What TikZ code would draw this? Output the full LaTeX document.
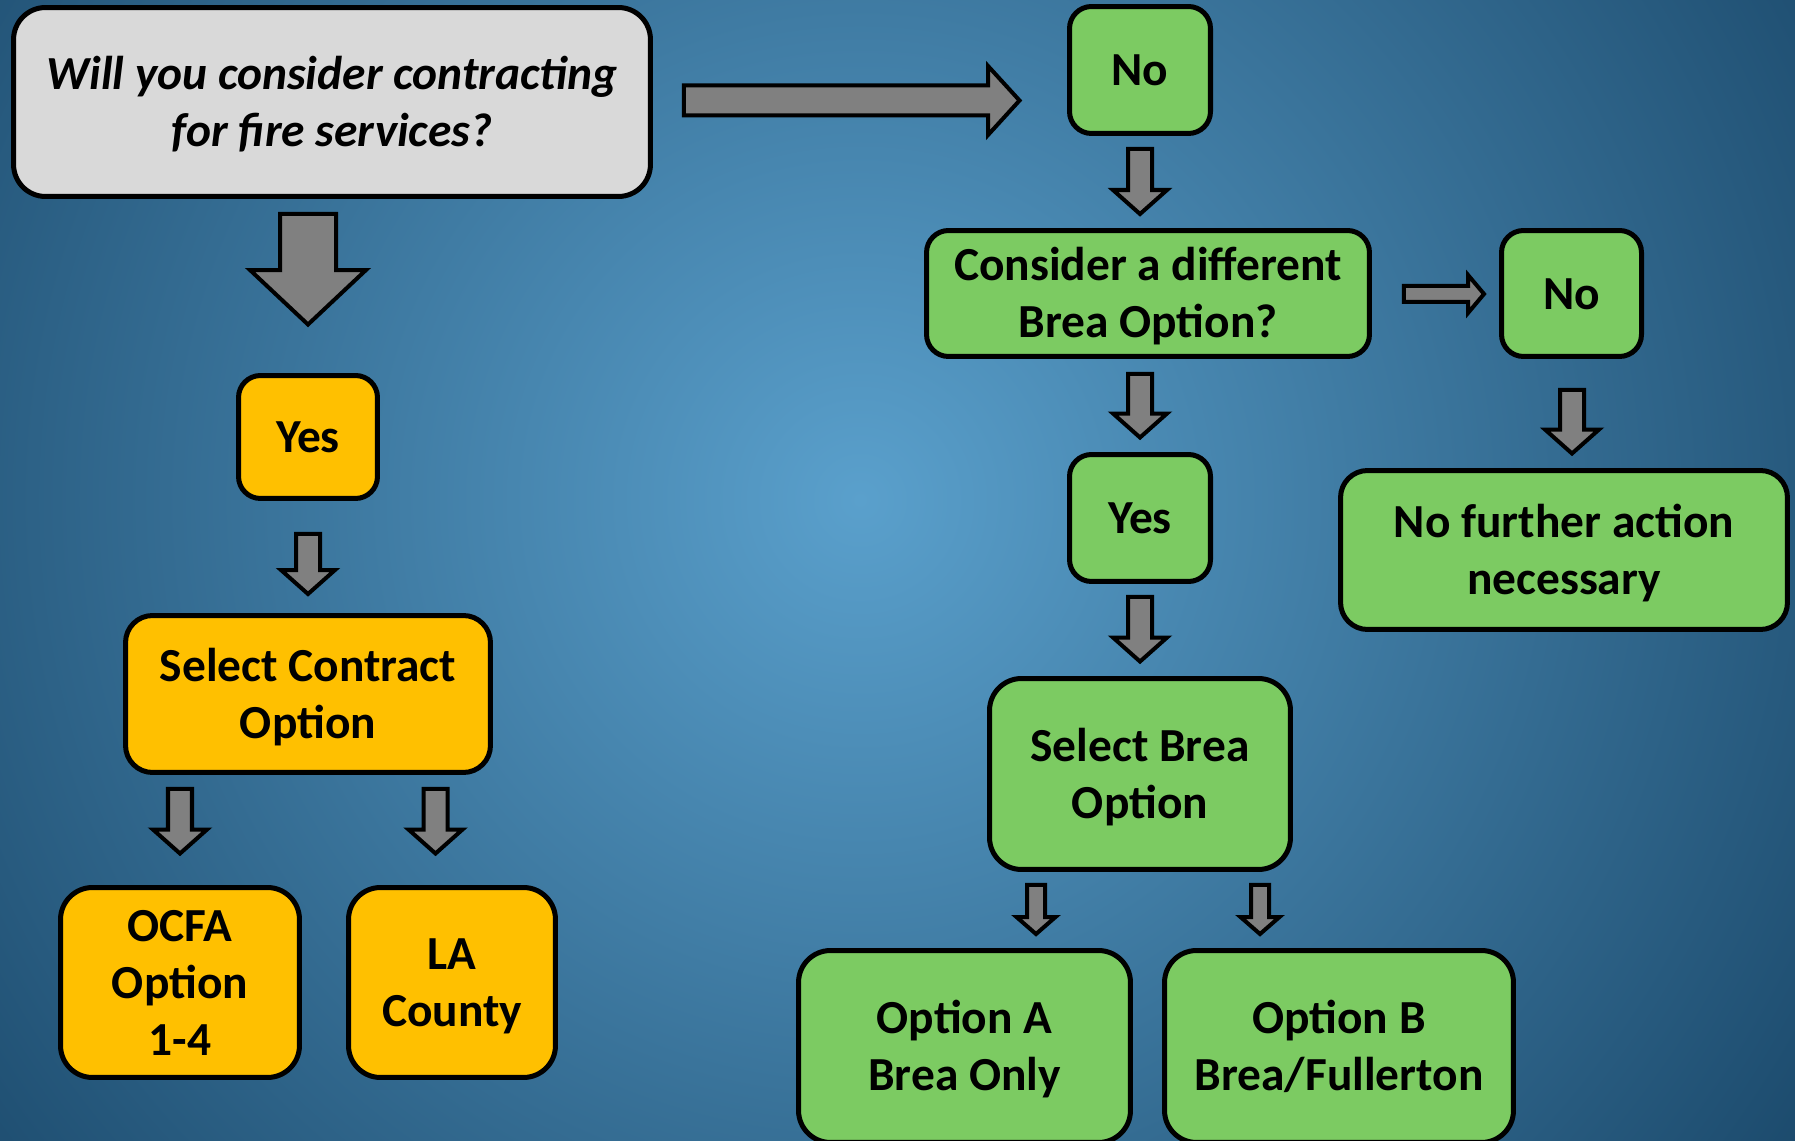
\documentclass[tikz,border=0pt]{standalone}
\usepackage{fontspec}
\setmainfont{Carlito}
\usetikzlibrary{calc}
\definecolor{bgin}{RGB}{90,160,204}
\definecolor{bgout}{RGB}{26,72,106}
\definecolor{boxgreen}{RGB}{124,203,98}
\definecolor{boxorange}{RGB}{255,192,0}
\definecolor{boxgray}{RGB}{217,217,217}
\definecolor{arrowgray}{RGB}{128,128,128}
\newcommand\linestrut{\rule[-8pt]{0pt}{34pt}}
\tikzset{
  bx/.style n args={3}{draw=black, line width=2.85pt, rectangle, rounded corners=#3,
    minimum width=#1, minimum height=#2, inner sep=0pt, align=center,
    font=\bfseries\fontsize{27}{32.5}\selectfont, text=black,
    execute at begin node=\linestrut, execute at end node=\linestrut},
  gbox/.style={fill=boxgreen},
  obox/.style={fill=boxorange},
  qbox/.style={fill=boxgray, font=\bfseries\itshape\fontsize{27}{32.5}\selectfont},
  barrow/.style={draw=black, fill=arrowgray, line width=2.28pt, line join=miter},
}
% vertical block arrow: #1 top point, #2 tip point (y used), #3 shaft half width, #4 head half width, #5 head length
\newcommand\vblock[5]{%
  \draw[barrow] let \p1=#1, \p2=#2 in
    ($(\x1,\y1)+(-#3,0)$) -- ($(\x1,\y1)+(#3,0)$) -- ($(\x1,\y2)+(#3,-#5)$) --
    ($(\x1,\y2)+(#4,-#5)$) -- (\x1,\y2) -- ($(\x1,\y2)+(-#4,-#5)$) --
    ($(\x1,\y2)+(-#3,-#5)$) -- cycle;}
% horizontal block arrow: #1 start point, #2 tip point (x used)
\newcommand\hblock[5]{%
  \draw[barrow] let \p1=#1, \p2=#2 in
    ($(\x1,\y1)+(0,-#3)$) -- ($(\x2,\y1)+(-#5,-#3)$) -- ($(\x2,\y1)+(-#5,-#4)$) --
    (\x2,\y1) -- ($(\x2,\y1)+(-#5,#4)$) -- ($(\x2,\y1)+(-#5,#3)$) --
    ($(\x1,\y1)+(0,#3)$) -- cycle;}
\begin{document}
\begin{tikzpicture}[x=0.02cm,y=-0.02cm]
\useasboundingbox (0,0) rectangle (1795,1141);
\begin{scope}
  \clip (0,0) rectangle (1795,1141);
  \fill[bgout] (0,0) rectangle (1795,1141);
  \shade[inner color=bgin, outer color=bgout] (860,500) circle [radius=23.5cm];
\end{scope}

% boxes
\node[bx={12.74cm}{3.78cm}{0.64cm}, qbox] (q) at (332,102) {\linestrut Will you consider contracting\\for fire services?};
\node[bx={2.82cm}{2.54cm}{0.44cm}, gbox] (notop) at (1140,70) {No};
\node[bx={8.86cm}{2.52cm}{0.44cm}, gbox] (consider) at (1148,293.5) {\linestrut Consider a different\\Brea Option?};
\node[bx={2.80cm}{2.52cm}{0.44cm}, gbox] (nor) at (1571.5,293.5) {No};
\node[bx={8.94cm}{3.18cm}{0.54cm}, gbox] (nfa) at (1564,550) {\linestrut No further action\\necessary};
\node[bx={2.82cm}{2.54cm}{0.44cm}, gbox] (yesg) at (1140,518) {Yes};
\node[bx={6.02cm}{3.82cm}{0.64cm}, gbox] (selbrea) at (1140,774) {\linestrut Select Brea\\Option};
\node[bx={6.64cm}{3.84cm}{0.64cm}, gbox] (opta) at (964.5,1046.5) {\linestrut Option A\\Brea Only};
\node[bx={6.98cm}{3.84cm}{0.64cm}, gbox] (optb) at (1339,1046.5) {\linestrut Option B\\Brea/Fullerton};
\node[bx={2.78cm}{2.46cm}{0.44cm}, obox] (yeso) at (308,437) {Yes};
\node[bx={7.30cm}{3.14cm}{0.54cm}, obox] (selc) at (308,694) {\linestrut Select Contract\\Option};
\node[bx={4.78cm}{3.80cm}{0.64cm}, obox] (ocfa) at (180,982.5) {\linestrut OCFA\\Option\\1-4};
\node[bx={4.14cm}{3.80cm}{0.64cm}, obox] (la) at (452,982.5) {\linestrut LA\\County};

% block arrows
\vblock{($(q.south -| yeso.north)+(0,15)$)}{($(yeso.north)+(0,-48.5)$)}{28}{58}{54.5}
\hblock{($(q.east)+(31,-1.5)$)}{($(notop.west)+(-47.5,0)$)}{15}{34.5}{31.5}
\vblock{($(notop.south)+(0,13)$)}{($(consider.north)+(0,-14)$)}{12}{27}{24}
\vblock{($(consider.south -| yesg.north)+(0,15)$)}{($(yesg.north)+(0,-14.5)$)}{12}{27}{24}
\vblock{($(yesg.south)+(0,13)$)}{($(selbrea.north)+(0,-14.5)$)}{12}{27}{24}
\hblock{($(consider.east)+(32,0.5)$)}{($(nor.west)+(-15,0)$)}{8}{19}{16}
\vblock{($(nor.south)+(0.5,31)$)}{($(nfa.north)+(0,-14.5)$)}{12}{27}{24}
\vblock{($(yeso.south)+(0,33)$)}{($(selc.north)+(0,-19)$)}{12}{27}{24}
\vblock{($(selc.south -| ocfa.north)+(0,14)$)}{($(ocfa.north)+(0,-31.5)$)}{12}{27}{24}
\vblock{($(selc.south)+(127.5,14)$)}{($(la.north)+(0,-31.5)$)}{12}{27}{24}
\vblock{($(selbrea.south)+(-104,13)$)}{($(opta.north)+(0,-14)$)}{9}{19.5}{17}
\vblock{($(selbrea.south)+(120,13)$)}{($(optb.north)+(0,-14)$)}{9}{19.5}{17}
\end{tikzpicture}
\end{document}
